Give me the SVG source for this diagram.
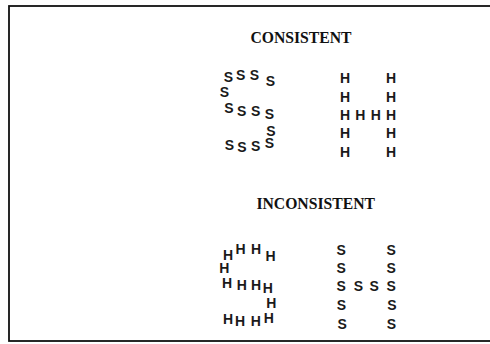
<svg xmlns="http://www.w3.org/2000/svg" width="490" height="344" viewBox="0 0 490 344">
<style>
.frame{fill:#fff;stroke:#111;stroke-width:1.8}
.title{font-family:"Liberation Serif","Times New Roman",serif;font-weight:bold;font-size:15.7px;fill:#111;text-anchor:middle}
.l{font-family:"Liberation Sans",Arial,sans-serif;font-weight:bold;font-size:14px;fill:#1a1a1a;text-anchor:middle}
</style>
<rect class="frame" x="9" y="6" width="495" height="335"/>
<g id="title-consistent"><text class="title" x="301" y="43">CONSISTENT</text></g>
<g id="title-inconsistent"><text class="title" x="315.7" y="209">INCONSISTENT</text></g>
<g id="consistent-S-of-S" transform="translate(0,0.7)">
<text class="l" x="228.3" y="81.5">S</text>
<text class="l" x="240.7" y="79.3">S</text>
<text class="l" x="254.5" y="79">S</text>
<text class="l" x="270.5" y="85">S</text>
<text class="l" x="224.5" y="96">S</text>
<text class="l" x="229" y="112.5">S</text>
<text class="l" x="241.7" y="115.5">S</text>
<text class="l" x="255.7" y="115">S</text>
<text class="l" x="269.5" y="118.3">S</text>
<text class="l" x="271" y="135">S</text>
<text class="l" x="229.5" y="149">S</text>
<text class="l" x="242" y="151">S</text>
<text class="l" x="255.7" y="150.3">S</text>
<text class="l" x="269.3" y="147.8">S</text>
</g>
<g id="consistent-H-of-H" transform="translate(0,0.7)">
<text class="l" x="345" y="82.6">H</text>
<text class="l" x="391" y="82.6">H</text>
<text class="l" x="345" y="101">H</text>
<text class="l" x="391" y="101">H</text>
<text class="l" x="345" y="119.3">H</text>
<text class="l" x="360.3" y="119.3">H</text>
<text class="l" x="375.7" y="119.3">H</text>
<text class="l" x="391" y="119.3">H</text>
<text class="l" x="345" y="137.6">H</text>
<text class="l" x="391" y="137.6">H</text>
<text class="l" x="345" y="156">H</text>
<text class="l" x="391" y="156">H</text>
</g>
<g id="inconsistent-S-of-H" transform="translate(0,0.7)">
<text class="l" x="228" y="259.3">H</text>
<text class="l" x="240.5" y="253">H</text>
<text class="l" x="256" y="253">H</text>
<text class="l" x="270.5" y="260.3">H</text>
<text class="l" x="224.3" y="272.3">H</text>
<text class="l" x="227" y="287.5">H</text>
<text class="l" x="241.7" y="289.3">H</text>
<text class="l" x="256" y="289.3">H</text>
<text class="l" x="267.7" y="292.3">H</text>
<text class="l" x="271.2" y="307.5">H</text>
<text class="l" x="228" y="323.3">H</text>
<text class="l" x="240" y="325.3">H</text>
<text class="l" x="255.8" y="325.3">H</text>
<text class="l" x="268.8" y="322.5">H</text>
</g>
<g id="inconsistent-H-of-S" transform="translate(0,0.7)">
<text class="l" x="341.2" y="254">S</text>
<text class="l" x="391.2" y="254">S</text>
<text class="l" x="341.2" y="272.3">S</text>
<text class="l" x="391.2" y="272.3">S</text>
<text class="l" x="341.2" y="290.7">S</text>
<text class="l" x="358.5" y="290.7">S</text>
<text class="l" x="374.2" y="290.7">S</text>
<text class="l" x="391.2" y="290.7">S</text>
<text class="l" x="341.5" y="309.7">S</text>
<text class="l" x="391.8" y="309.7">S</text>
<text class="l" x="342.2" y="328">S</text>
<text class="l" x="391.5" y="328">S</text>
</g>
</svg>
